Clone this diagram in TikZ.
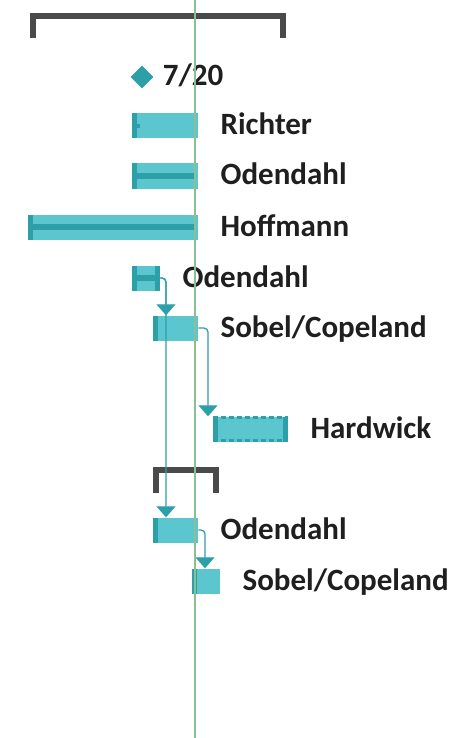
\documentclass[tikz,border=0pt]{standalone}
\usepackage{fontspec}
\setmainfont{Carlito}
\usetikzlibrary{shapes,shapes.geometric,positioning,arrows.meta}

\definecolor{barfill}{HTML}{5CC6CF}
\definecolor{bardark}{HTML}{2C9FA8}
\definecolor{todayline}{HTML}{8CBF96}
\definecolor{summarygray}{HTML}{4A4A4A}

\begin{document}
\begin{tikzpicture}[x=1pt,y=-1pt]

\tikzset{
     task/.style={
     	rectangle,
     	fill=barfill,
     	inner sep=0pt,
     	anchor=west,
     	minimum height=25pt,
     	path picture={
     		\fill[bardark] (path picture bounding box.north west) rectangle ([xshift=5pt]path picture bounding box.south west);
     	}
     }
}

\tikzset{
     taskends/.style={
     	task,
     	path picture={
     		\fill[bardark] (path picture bounding box.north west) rectangle ([xshift=5pt]path picture bounding box.south west);
     		\fill[bardark] (path picture bounding box.north east) rectangle ([xshift=-5pt]path picture bounding box.south east);
     	}
     }
}

\tikzset{
	tasklabel/.style={
		font=\fontsize{31}{33}\selectfont\bfseries,
		text=black!88,
		inner sep=0pt,
		yshift=-9pt
	}
}

\tikzset{
	milestone/.style={
		diamond,
		fill=bardark,
		inner sep=0pt,
		minimum size=23pt
	}
}

\tikzset{
	progress/.style={draw=bardark, line width=6pt},
	planned/.style={draw=bardark, line width=3pt, dash pattern=on 5pt off 3pt},
	link/.style={
		draw=bardark,
		line width=1.3pt,
		rounded corners=4pt,
		-{Triangle[width=19pt,length=11pt]}
	},
	summary/.style={draw=summarygray, line width=6pt},
	today/.style={draw=todayline, line width=1.3pt}
}

\def\gap{22pt}

\useasboundingbox (0,0) rectangle (473,738);

% summary brackets
\draw[summary] (33,38) |- (283,16) -- (283,38);
\draw[summary] (156,493) |- (216,470) -- (216,493);

% milestone
\node[milestone] (ms) at (142,77) {};
\node[tasklabel, right=9pt of ms, anchor=base west] {7/20};

% tasks
\node[task, minimum width=66pt] (richter) at (132,126) {};
\node[tasklabel, base right=\gap of richter] {Richter};

\node[task, minimum width=66pt] (odend3) at (132,176) {};
\node[tasklabel, base right=\gap of odend3] {Odendahl};

\node[task, minimum width=170pt] (hoffmann) at (28,227) {};
\node[tasklabel, base right=\gap of hoffmann] {Hoffmann};

\node[taskends, minimum width=28pt] (odend4) at (132,278) {};
\node[tasklabel, base right=\gap of odend4] {Odendahl};

\node[task, minimum width=45pt] (sobel5) at (153,328) {};
\node[tasklabel, base right=\gap of sobel5] {Sobel/Copeland};

\node[taskends, minimum width=75pt] (hardwick) at (213,429) {};
\node[tasklabel, base right=\gap of hardwick] {Hardwick};

\node[task, minimum width=45pt] (odend9) at (153,530) {};
\node[tasklabel, base right=\gap of odend9] {Odendahl};

\node[task, minimum width=28pt] (sobel10) at (192,581) {};
\node[tasklabel, base right=\gap of sobel10] {Sobel/Copeland};

% progress
\draw[progress, line width=4pt] ([xshift=5pt]richter.west) -- ([xshift=8pt]richter.west);
\draw[progress] ([xshift=5pt]odend3.west) -- ([xshift=-4pt]odend3.east);
\draw[progress] ([xshift=5pt]hoffmann.west) -- ([xshift=-3pt]hoffmann.east);
\draw[progress] ([xshift=5pt]odend4.west) -- ([xshift=-5pt]odend4.east);
\draw[planned] ([yshift=-1.5pt]hardwick.north west) -- ([yshift=-1.5pt]hardwick.north east);
\draw[planned] ([yshift=1.5pt]hardwick.south west) -- ([yshift=1.5pt]hardwick.south east);

% links
\draw[link] (odend4.east) -| ([xshift=13pt]sobel5.north west);
\draw[link] (odend4.east) -| ([xshift=13pt]odend9.north west);
\draw[link] (sobel5.east) -| ([xshift=-5pt]hardwick.north west);
\draw[link] (odend9.east) -| ([xshift=13pt]sobel10.north west);

% today
\draw[today] (195,0) -- (195,738);

\end{tikzpicture}
\end{document}
